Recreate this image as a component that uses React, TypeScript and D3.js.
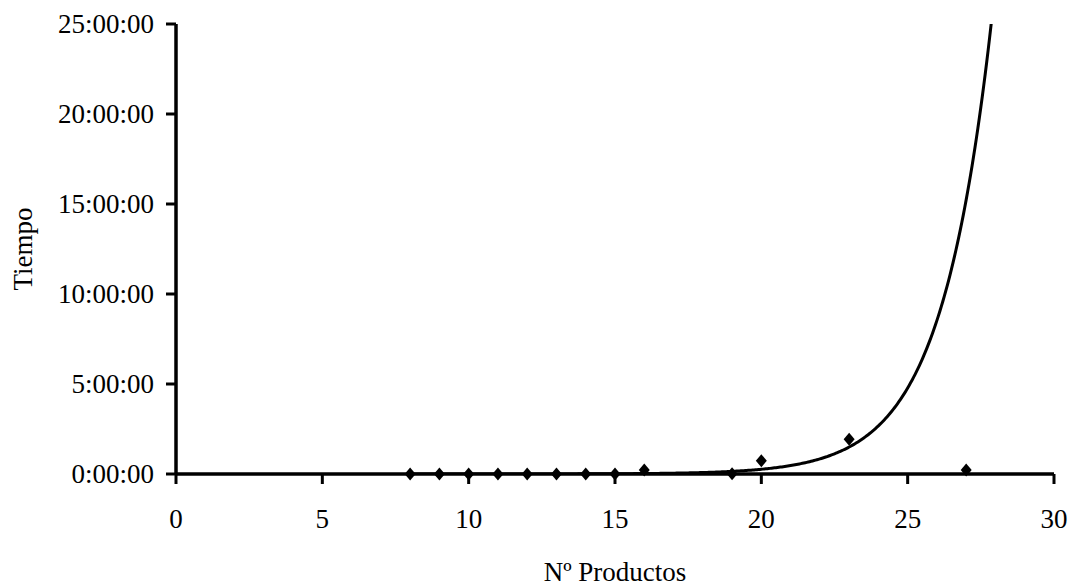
import React from "react";
import * as d3 from "d3";

// Data: number of products vs measured time (seconds)
const products = [8, 9, 10, 11, 12, 13, 14, 15, 16, 19, 20, 23, 27];
const timeSeconds = [2, 3, 4, 5, 6, 8, 10, 15, 800, 60, 2640, 6960, 780];

// Exponential trend line (Excel-style) in hours: y = a * exp(b * x)
const trendA = 2.41e-6;
const trendB = 0.58;
const trendFrom = 8;
const trendTo = 30;

const xTicks = [0, 5, 10, 15, 20, 25, 30];
const yTicksHours = [0, 5, 10, 15, 20, 25];

const xTitle = "Nº Productos";
const yTitle = "Tiempo";

const W = 1074;
const H = 586;
const left = 176;
const right = 1054;
const top = 24;
const bottom = 474;
const font = "'Liberation Serif', 'Times New Roman', serif";

function fmt(sec: number) {
  const h = Math.floor(sec / 3600);
  const m = Math.floor((sec % 3600) / 60);
  const s = Math.floor(sec % 60);
  return `${h}:${String(m).padStart(2, "0")}:${String(s).padStart(2, "0")}`;
}

export default function App() {
  const x = d3.scaleLinear().domain([0, 30]).range([left, right]);
  const y = d3.scaleLinear().domain([0, 25 * 3600]).range([bottom, top]);

  const samples = d3.range(trendFrom, trendTo + 0.0001, 0.05);
  const line = d3
    .line<number>()
    .x((d) => x(d))
    .y((d) => y(trendA * Math.exp(trendB * d) * 3600));

  const diamond = (cx: number, cy: number, rx: number, ry: number) =>
    `M${cx},${cy - ry}L${cx + rx},${cy}L${cx},${cy + ry}L${cx - rx},${cy}Z`;

  return (
    <svg
      width={W}
      height={H}
      style={{ position: "absolute", left: 0, top: 0, background: "#fff" }}
      fontFamily={font}
    >
      <defs>
        <clipPath id="plot">
          <rect x={left} y={top} width={right - left} height={bottom - top} />
        </clipPath>
      </defs>

      {/* Y axis */}
      <line x1={left} y1={top} x2={left} y2={bottom} stroke="#000" strokeWidth={3.5} />
      {yTicksHours.map((h) => (
        <g key={h}>
          <line x1={left - 10} x2={left} y1={y(h * 3600)} y2={y(h * 3600)} stroke="#000" strokeWidth={3} />
          <text
            x={154}
            y={y(h * 3600)}
            textAnchor="end"
            dominantBaseline="central"
            fontSize={27}
          >
            {fmt(h * 3600)}
          </text>
        </g>
      ))}

      {/* X axis */}
      <line x1={left} y1={bottom} x2={right} y2={bottom} stroke="#000" strokeWidth={3.5} />
      {xTicks.map((t) => (
        <g key={t}>
          <line x1={x(t)} x2={x(t)} y1={bottom} y2={bottom + 10} stroke="#000" strokeWidth={3} />
          <text x={x(t)} y={528} textAnchor="middle" fontSize={27}>
            {t}
          </text>
        </g>
      ))}

      {/* Trend line */}
      <g clipPath="url(#plot)">
        <path d={line(samples) || ""} fill="none" stroke="#000" strokeWidth={3} />
      </g>

      {/* Points */}
      {products.map((p, i) => (
        <path key={p} d={diamond(x(p), y(timeSeconds[i]), 5.5, 6.5)} fill="#000" />
      ))}

      {/* Titles */}
      <text x={(left + right) / 2} y={581} textAnchor="middle" fontSize={27}>
        {xTitle}
      </text>
      <text
        transform={`translate(32, ${(top + bottom) / 2}) rotate(-90)`}
        textAnchor="middle"
        fontSize={27}
      >
        {yTitle}
      </text>
    </svg>
  );
}
